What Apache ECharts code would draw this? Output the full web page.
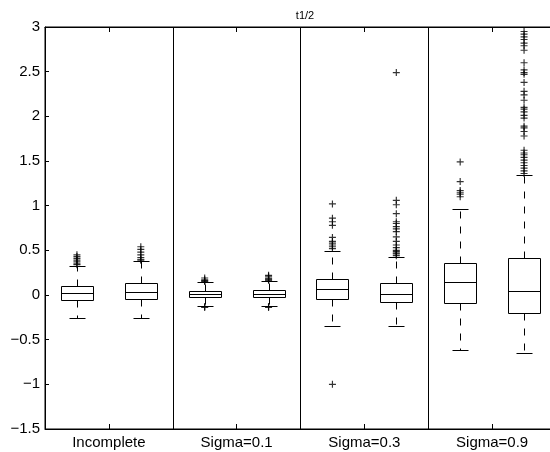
<!DOCTYPE html>
<html>
<head>
<meta charset="utf-8">
<title>t1/2</title>
<script src="https://cdn.jsdelivr.net/npm/echarts@6.0.0/dist/echarts.min.js"></script>
<style>
  html, body { margin: 0; padding: 0; background: #fff; }
  #main { width: 550px; height: 452px; }
</style>
</head>
<body>
<div id="main"></div>
<script>
// 分组（每组两个箱子）
const groups = ['Incomplete', 'Sigma=0.1', 'Sigma=0.3', 'Sigma=0.9'];

// 每个箱子的五数：下须、Q1、中位数、Q3、上须
const whiskerLow  = [-0.263, -0.263, -0.124, -0.124, -0.345, -0.35, -0.616, -0.653];
const q1          = [-0.056, -0.045, -0.023, -0.019, -0.045, -0.082, -0.093, -0.205];
const median      = [0.019, 0.03, 0.008, 0.015, 0.063, 0.015, 0.142, 0.048];
const q3          = [0.10, 0.13, 0.049, 0.056, 0.183, 0.13, 0.354, 0.41];
const whiskerHigh = [0.327, 0.38, 0.143, 0.158, 0.497, 0.43, 0.96, 1.343];

// 异常值（+）
const outliers = [
  [0.34, 0.35, 0.37, 0.39, 0.41, 0.43, 0.45],
  [0.39, 0.40, 0.42, 0.45, 0.48, 0.51, 0.54],
  [0.15, 0.16, 0.17, 0.19, -0.13, -0.14],
  [0.165, 0.17, 0.18, 0.19, 0.21, 0.22, -0.13, -0.14],
  [0.52, 0.54, 0.56, 0.58, 0.60, 0.645, 0.78, 0.82, 0.86, 1.02, -1.0],
  [0.44, 0.46, 0.47, 0.485, 0.50, 0.53, 0.56, 0.60, 0.65, 0.71, 0.74, 0.765, 0.80, 0.82, 0.91, 1.01, 1.06, 2.49],
  [1.10, 1.13, 1.15, 1.17, 1.27, 1.49],
  [1.36, 1.39, 1.42, 1.45, 1.48, 1.51, 1.54, 1.57, 1.59, 1.62, 1.78, 1.83, 1.87, 1.89,
   1.98, 2.01, 2.05, 2.08, 2.10, 2.18, 2.24, 2.28, 2.38, 2.47, 2.49, 2.52, 2.60,
   2.74, 2.79, 2.82, 2.86, 2.89, 2.92, 2.95]
];

// y 轴刻度
const yMin = -1.5;
const yMax = 3;
const yStep = 0.5;

const font = "'Liberation Sans', Arial, Helvetica, sans-serif";

const boxData = median.map((m, i) => [i + 1, whiskerLow[i], q1[i], m, q3[i], whiskerHigh[i]]);
const outlierData = [];
outliers.forEach((list, i) => list.forEach(v => outlierData.push([i + 1, v])));

const groupCenters = groups.map((g, i) => 2 * i + 1.5);
const separators = groups.slice(1).map((g, i) => 2 * i + 2.5);

function renderBox(params, api) {
  const x = api.value(0);
  const y = v => Math.round(api.coord([x, v])[1]) + 0.5;
  const cx = Math.round(api.coord([x, 0])[0]) + 0.5;
  const halfBox = Math.round(api.size([0.5, 0])[0] / 2);
  const halfCap = Math.round(api.size([0.25, 0])[0] / 2);
  const yLo = y(api.value(1)), yQ1 = y(api.value(2)), yMed = y(api.value(3));
  const yQ3 = y(api.value(4)), yHi = y(api.value(5));
  const solid = { stroke: '#000', lineWidth: 1 };
  const dashed = { stroke: '#000', lineWidth: 1, lineDash: [7, 8] };
  return {
    type: 'group',
    children: [
      { type: 'line', shape: { x1: cx, y1: yQ3, x2: cx, y2: yHi }, style: dashed },
      { type: 'line', shape: { x1: cx, y1: yQ1, x2: cx, y2: yLo }, style: dashed },
      { type: 'line', shape: { x1: cx - halfCap, y1: yHi, x2: cx + halfCap, y2: yHi }, style: solid },
      { type: 'line', shape: { x1: cx - halfCap, y1: yLo, x2: cx + halfCap, y2: yLo }, style: solid },
      { type: 'rect', shape: { x: cx - halfBox, y: yQ3, width: 2 * halfBox, height: yQ1 - yQ3 },
        style: { stroke: '#000', fill: 'none', lineWidth: 1 } },
      { type: 'line', shape: { x1: cx - halfBox, y1: yMed, x2: cx + halfBox, y2: yMed }, style: solid }
    ]
  };
}

const myChart = echarts.init(document.getElementById('main'));
myChart.setOption({
  animation: false,
  backgroundColor: '#fff',
  title: {
    text: 't1/2',
    left: 300,
    top: 5,
    textAlign: 'center',
    textStyle: { fontSize: 11, fontWeight: 'normal', color: '#000', fontFamily: font }
  },
  // 右边框落在画布外
  grid: {
    left: 45, top: 27, width: 511, height: 402,
    outerBoundsMode: 'none', containLabel: false,
    show: true, borderColor: '#000', borderWidth: 1, backgroundColor: 'transparent'
  },
  xAxis: [
    {
      type: 'value',
      min: 0.5,
      max: 8.5,
      position: 'bottom',
      axisLine: { onZero: false, lineStyle: { color: '#000', width: 1 } },
      axisTick: { inside: true, length: 5, customValues: groupCenters, lineStyle: { color: '#000' } },
      axisLabel: {
        customValues: groupCenters,
        formatter: v => groups[Math.round((v - 1.5) / 2)],
        color: '#000', fontSize: 15, fontFamily: font, margin: 6
      },
      splitLine: { show: false }
    },
    {
      type: 'value',
      min: 0.5,
      max: 8.5,
      position: 'top',
      axisLine: { show: true, onZero: false, lineStyle: { color: '#000', width: 1 } },
      axisTick: { show: true, inside: true, length: 5, customValues: groupCenters, lineStyle: { color: '#000' } },
      axisLabel: { show: false },
      splitLine: { show: false }
    }
  ],
  yAxis: {
    type: 'value',
    min: yMin,
    max: yMax,
    interval: yStep,
    axisLine: { show: true, onZero: false, lineStyle: { color: '#000', width: 1 } },
    axisTick: { inside: true, length: 4, lineStyle: { color: '#000' } },
    axisLabel: {
      formatter: v => String(v).replace('-', '\u2212'),
      color: '#000', fontSize: 15, fontFamily: font, margin: 5
    },
    splitLine: { show: false }
  },
  series: [
    {
      type: 'custom',
      renderItem: renderBox,
      encode: { x: 0, y: [1, 2, 3, 4, 5] },
      data: boxData,
      z: 3,
      markLine: {
        silent: true,
        symbol: 'none',
        label: { show: false },
        lineStyle: { color: '#000', width: 1, type: 'solid' },
        data: separators.map(s => ({ xAxis: s }))
      }
    },
    {
      type: 'scatter',
      data: outlierData,
      symbol: 'path://M5,0h2v5h5v2h-5v5h-2v-5h-5v-2h5z',
      symbolSize: 7,
      itemStyle: { color: '#000' },
      clip: true,
      z: 4
    }
  ]
});
</script>
</body>
</html>
